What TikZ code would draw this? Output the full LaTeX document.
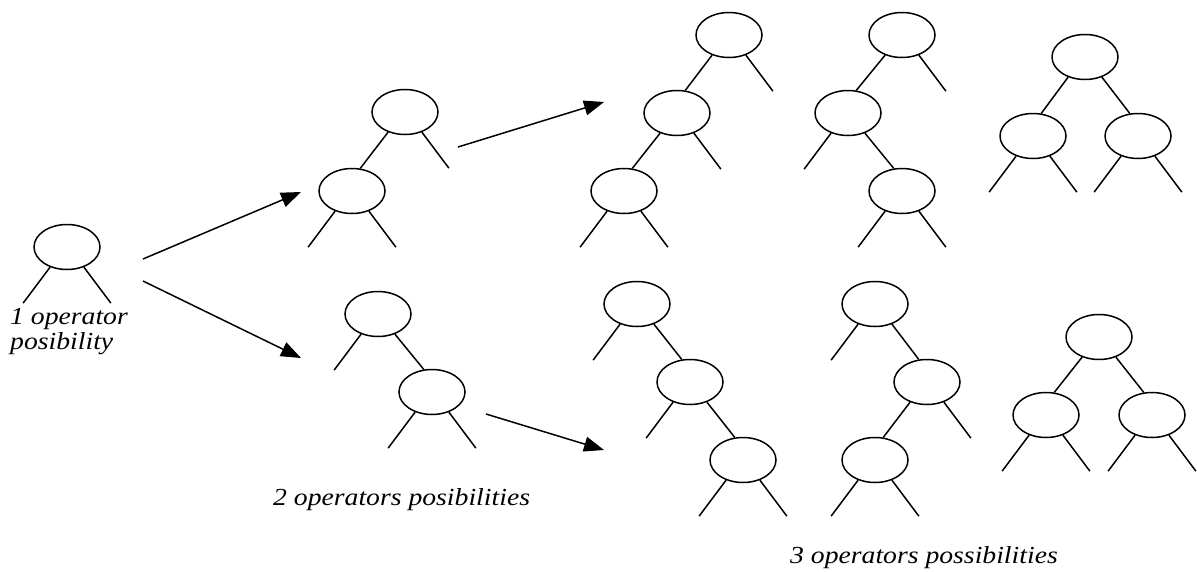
\documentclass[tikz,border=0pt]{standalone}
\usepackage{fontspec}
\setmainfont{Liberation Serif}[FakeStretch=1.13]
\usetikzlibrary{shapes.geometric,arrows.meta}

% operator node and its connecting lines
\tikzset{
  op/.style={ellipse, draw, line width=1.5pt, minimum width=66pt,
             minimum height=45pt, inner sep=0pt},
  branch/.style={line width=1.5pt},
  growarrow/.style={line width=1.5pt, -{Triangle[length=20pt,width=15pt]}},
  captiontext/.style={font=\fontsize{24.5}{25}\selectfont\itshape, anchor=base west,
                  inner sep=0pt, align=left}
}
% free operand lines below a node
\newcommand\leftleaf[1]{\draw[branch] (#1.-130) -- ++(-27,36);}
\newcommand\rightleaf[1]{\draw[branch] (#1.-50) -- ++(27,36);}
% lines joining a node to a child node
\newcommand\leftkid[2]{\draw[branch] (#1.-130) -- (#2.70);}
\newcommand\rightkid[2]{\draw[branch] (#1.-50) -- (#2.110);}

\begin{document}
\begin{tikzpicture}[x=1pt,y=-1pt]
\useasboundingbox (0,0) rectangle (1197,571);

% one operator
\node[op] (a) at (67,247) {};
\leftleaf{a} \rightleaf{a}

% two operators: left-leaning
\node[op] (b1r) at (405,112) {};
\node[op] (b1l) at (352,191) {};
\leftkid{b1r}{b1l} \rightleaf{b1r}
\leftleaf{b1l} \rightleaf{b1l}

% two operators: right-leaning
\node[op] (b2r) at (378,314) {};
\node[op] (b2c) at (432,392) {};
\leftleaf{b2r} \rightkid{b2r}{b2c}
\leftleaf{b2c} \rightleaf{b2c}

% three operators: left-left
\node[op] (c1r) at (729,35) {};
\node[op] (c1m) at (677,113) {};
\node[op] (c1b) at (624,191) {};
\leftkid{c1r}{c1m} \rightleaf{c1r}
\leftkid{c1m}{c1b} \rightleaf{c1m}
\leftleaf{c1b} \rightleaf{c1b}

% three operators: left-right
\node[op] (c2r) at (902,35) {};
\node[op] (c2m) at (848,113) {};
\node[op] (c2b) at (902,191) {};
\leftkid{c2r}{c2m} \rightleaf{c2r}
\leftleaf{c2m} \rightkid{c2m}{c2b}
\leftleaf{c2b} \rightleaf{c2b}

% three operators: balanced (upper)
\node[op] (c3r) at (1085,57) {};
\node[op] (c3l) at (1033,136) {};
\node[op] (c3c) at (1138,136) {};
\leftkid{c3r}{c3l} \rightkid{c3r}{c3c}
\leftleaf{c3l} \rightleaf{c3l}
\leftleaf{c3c} \rightleaf{c3c}

% three operators: right-right
\node[op] (d1r) at (637,304) {};
\node[op] (d1m) at (690,382) {};
\node[op] (d1b) at (743,460) {};
\leftleaf{d1r} \rightkid{d1r}{d1m}
\leftleaf{d1m} \rightkid{d1m}{d1b}
\leftleaf{d1b} \rightleaf{d1b}

% three operators: right-left
\node[op] (d2r) at (875,304) {};
\node[op] (d2m) at (927,382) {};
\node[op] (d2b) at (875,460) {};
\leftleaf{d2r} \rightkid{d2r}{d2m}
\leftkid{d2m}{d2b} \rightleaf{d2m}
\leftleaf{d2b} \rightleaf{d2b}

% three operators: balanced (lower)
\node[op] (d3r) at (1099,337) {};
\node[op] (d3l) at (1046,415) {};
\node[op] (d3c) at (1152,415) {};
\leftkid{d3r}{d3l} \rightkid{d3r}{d3c}
\leftleaf{d3l} \rightleaf{d3l}
\leftleaf{d3c} \rightleaf{d3c}

% growth arrows
\coordinate (g1s) at (143,259);  \coordinate (g1e) at (301,192);
\coordinate (g2s) at (143,281);  \coordinate (g2e) at (301,358);
\coordinate (g3s) at (458,147);  \coordinate (g3e) at (604,102);
\coordinate (g4s) at (486,414);  \coordinate (g4e) at (604,450);
\draw[growarrow] (g1s) -- (g1e);
\draw[growarrow] (g2s) -- (g2e);
\draw[growarrow] (g3s) -- (g3e);
\draw[growarrow] (g4s) -- (g4e);

% captions
\node[captiontext] (t1) at (10,349) {1 operator\\posibility};
\node[captiontext] (t2) at (273,505) {2 operators posibilities};
\node[captiontext] (t3) at (790,563) {3 operators possibilities};
\end{tikzpicture}
\end{document}
